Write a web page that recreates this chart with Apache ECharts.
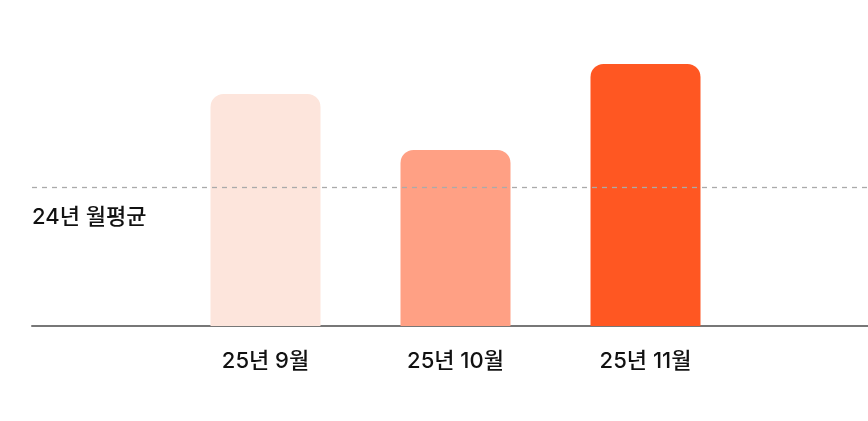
<!DOCTYPE html>
<html>
<head>
<meta charset="utf-8">
<script src="https://cdn.jsdelivr.net/npm/echarts@6/dist/echarts.min.js"></script>
<style>
html,body{margin:0;padding:0;background:#fff;}
#c{width:868px;height:421px;}
</style>
</head>
<body>
<div id="c"></div>
<script>
const categories = ['25년 9월', '25년 10월', '25년 11월'];
const values = [232, 176, 262];
const barColors = ['#FDE5DC', '#FFA084', '#FF5722'];
const avgValue = 139;
const avgLabel = '24년 월평균';

const FONT = 'Inter, "Noto Sans CJK KR", sans-serif';
const chart = echarts.init(document.getElementById('c'), null, {renderer: 'canvas'});
chart.setOption({
  animation: false,
  grid: [
    {left: 32, right: 0, top: 26, bottom: 95},
    {left: 170.5, right: 127.5, top: 26, bottom: 95}
  ],
  xAxis: [
    {gridIndex: 0, type: 'category', data: [''],
     axisLine: {show: true, lineStyle: {color: '#777', width: 2}},
     axisTick: {show: false}, axisLabel: {show: false}, splitLine: {show: false}},
    {gridIndex: 1, type: 'category', data: categories,
     axisLine: {show: false}, axisTick: {show: false}, splitLine: {show: false},
     axisLabel: {color: '#111', fontSize: 22, fontWeight: 500, fontFamily: FONT, margin: 24}}
  ],
  yAxis: [
    {gridIndex: 0, type: 'value', min: 0, max: 300, show: false},
    {gridIndex: 1, type: 'value', min: 0, max: 300, show: false}
  ],
  series: [
    {
      type: 'line', xAxisIndex: 0, yAxisIndex: 0, data: [],
      silent: true,
      markLine: {
        symbol: 'none', silent: true,
        lineStyle: {color: '#aaa', type: [5, 5], width: 1.3},
        label: {
          show: true, position: 'insideStartBottom', formatter: avgLabel,
          color: '#111', fontSize: 22, fontWeight: 500, fontFamily: FONT, distance: [0, 19]
        },
        data: [{yAxis: avgValue}]
      }
    },
    {
      type: 'bar', xAxisIndex: 1, yAxisIndex: 1, barWidth: 110, z: 1,
      data: values.map((v, i) => ({value: v, itemStyle: {color: barColors[i]}})),
      itemStyle: {borderRadius: [13, 13, 0, 0]}
    }
  ]
});
</script>
</body>
</html>
